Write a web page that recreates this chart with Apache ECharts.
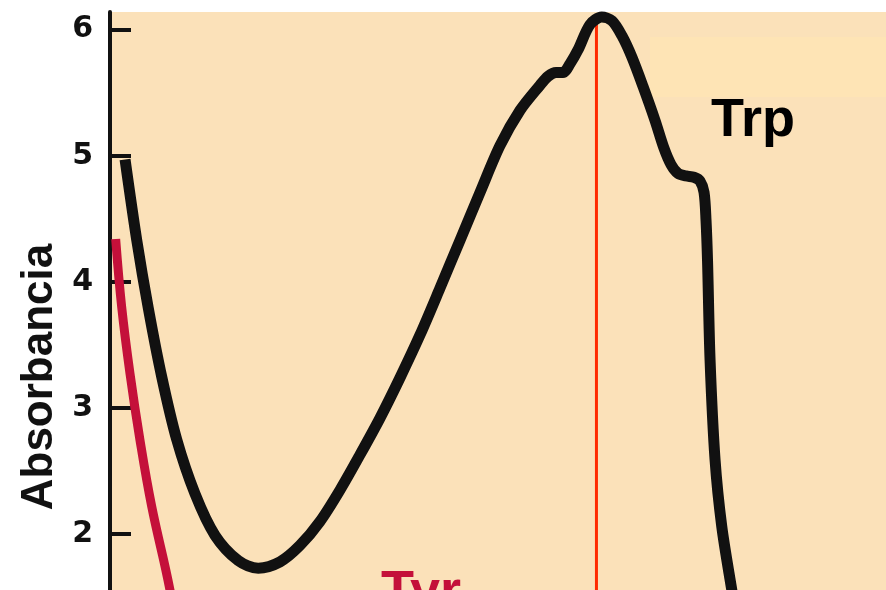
<!DOCTYPE html>
<html>
<head>
<meta charset="utf-8">
<script src="https://cdn.jsdelivr.net/npm/echarts@6/dist/echarts.min.js"></script>
<style>
html,body{margin:0;padding:0;background:#ffffff;}
#chart{width:886px;height:590px;}
</style>
</head>
<body>
<div id="chart"></div>
<script>
// Wavelength (nm) and absorbance values
const trpWavelength = [239.30,240.31,241.31,242.46,243.76,245.34,247.07,249.08,250.80,252.68,254.40,256.13,257.86,259.59,261.31,263.04,264.77,266.49,268.22,269.95,271.67,273.40,275.13,275.82,276.51,277.11,277.72,278.41,279.44,280.45,281.34,282.21,283.07,284.02,285.06,285.83,286.44,287.04,287.73,288.42,288.94,289.29,289.46,289.59,289.81,290.24,290.82,291.68,292.05];
const trpAbsorbance = [4.97,4.33,3.79,3.25,2.75,2.32,1.99,1.79,1.73,1.78,1.91,2.10,2.35,2.63,2.92,3.24,3.58,3.95,4.33,4.71,5.08,5.36,5.56,5.63,5.66,5.66,5.73,5.84,6.04,6.10,6.07,5.95,5.78,5.55,5.28,5.06,4.93,4.86,4.84,4.83,4.80,4.71,4.49,4.17,3.38,2.59,2.06,1.56,1.36];
const tyrWavelength = [238.49,239.01,239.73,240.59,241.60,243.18,243.44];
const tyrAbsorbance = [4.34,3.80,3.27,2.745,2.22,1.556,1.35];
const peakWavelength = 280;
const peakLineTop = 6.05;
const yTicks = [1,2,3,4,5,6];
const labels = {y: 'Absorbancia', trp: 'Trp', tyr: 'Tyr'};

const zip = (xs, ys) => xs.map((x, i) => [x, ys[i]]);

const chart = echarts.init(document.getElementById('chart'), null, {renderer: 'canvas'});
chart.setOption({
  animation: false,
  backgroundColor: '#ffffff',
  grid: {
    left: 110, right: 0, top: 12, bottom: -70.25,
    containLabel: false, outerBoundsMode: 'none',
    show: true, backgroundColor: '#FBE1B9', borderWidth: 0
  },
  xAxis: {
    type: 'value', min: 238, max: 305, show: false
  },
  yAxis: {
    type: 'value', min: 1, max: 6.14, interval: 1,
    axisLine: {show: true, lineStyle: {color: '#111111', width: 4}},
    axisTick: {show: true, inside: true, length: 21, lineStyle: {color: '#111111', width: 4}, customValues: yTicks},
    axisLabel: {
      show: true, margin: 17, color: '#111111',
      fontFamily: 'DejaVu Sans', fontWeight: 'bold', fontSize: 30,
      customValues: yTicks,
      formatter: v => (Number.isInteger(v) ? String(v) : '')
    },
    splitLine: {show: false}
  },
  graphic: [
    {type: 'rect', z: 1, silent: true, shape: {x: 650, y: 37, width: 236, height: 60}, style: {fill: '#FEE4B5'}},
    {type: 'text', z: 10, x: 40, y: 377, rotation: Math.PI / 2,
      style: {text: labels.y, fill: '#111111', font: 'bold 44px "Liberation Sans", Arial, sans-serif', textAlign: 'center', textVerticalAlign: 'middle'}},
    {type: 'text', z: 10, x: 711, y: 121,
      style: {text: labels.trp, fill: '#000000', font: 'bold 54px "Liberation Sans", Arial, sans-serif', textAlign: 'left', textVerticalAlign: 'middle'}},
    {type: 'text', z: 10, x: 381, y: 593,
      style: {text: labels.tyr, fill: '#C4103A', font: 'bold 54px "Liberation Sans", Arial, sans-serif', textAlign: 'left', textVerticalAlign: 'middle'}}
  ],
  series: [
    {
      type: 'line', name: 'peak', z: 3,
      data: [[peakWavelength, peakLineTop], [peakWavelength, 1]],
      symbol: 'none', lineStyle: {color: '#FF2A00', width: 3}
    },
    {
      type: 'line', name: 'Tyr', z: 4,
      data: zip(tyrWavelength, tyrAbsorbance),
      symbol: 'none', smooth: 0.4,
      lineStyle: {color: '#C4103A', width: 9, cap: 'butt'}
    },
    {
      type: 'line', name: 'Trp', z: 5,
      data: zip(trpWavelength, trpAbsorbance),
      symbol: 'none', smooth: 0.3,
      lineStyle: {color: '#111111', width: 11, cap: 'butt', join: 'round'}
    }
  ]
});
</script>
</body>
</html>
